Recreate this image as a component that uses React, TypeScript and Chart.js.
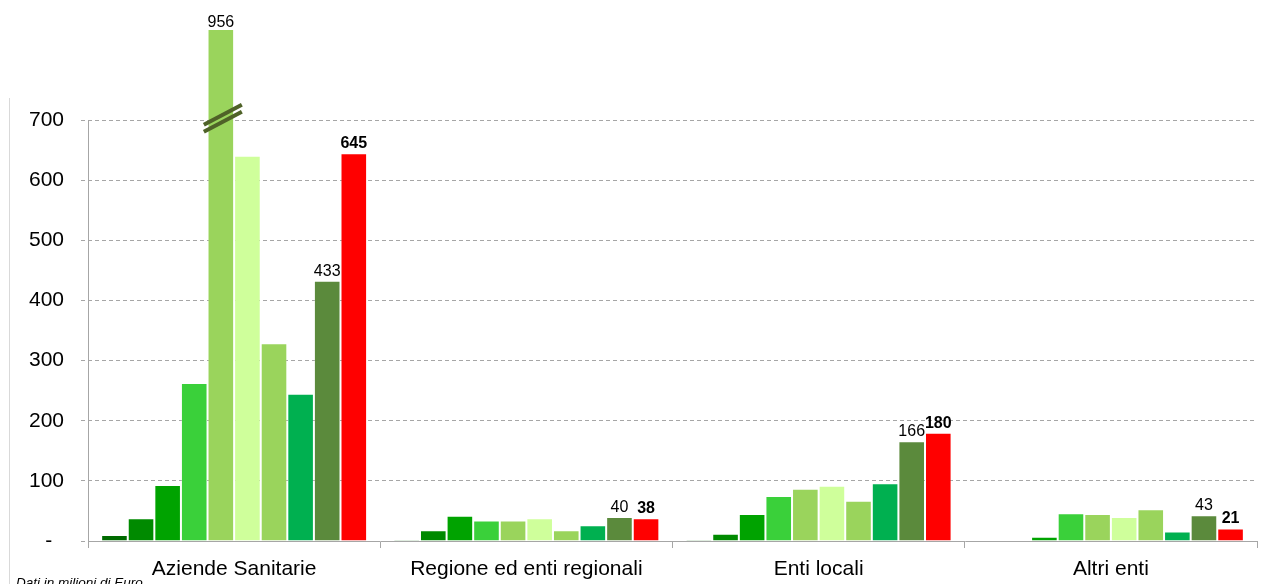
import React, { useEffect, useRef } from "react";
import { Chart, registerables } from "chart.js";

Chart.register(...registerables);

const categories = ["Aziende Sanitarie", "Regione ed enti regionali", "Enti locali", "Altri enti"];
const seriesNames = ["Serie 1", "Serie 2", "Serie 3", "Serie 4", "Serie 5", "Serie 6", "Serie 7", "Serie 8", "Serie 9", "Serie 10"];
const s1 = [10, 2, 2, 0.5];
const s2 = [38, 18, 12, 0.5];
const s3 = [93, 42, 45, 7];
const s4 = [263, 34, 75, 46];
const s5 = [956, 34, 87, 45];
const s6 = [641, 38, 92, 40];
const s7 = [329, 18, 67, 53];
const s8 = [245, 26, 96, 16];
const s9 = [433, 40, 166, 43];
const s10 = [645, 38, 180, 21];
const seriesValues = [s1, s2, s3, s4, s5, s6, s7, s8, s9, s10];
const seriesColors = ["#006a00", "#008a00", "#00a300", "#3ad03a", "#9ad45c", "#cfff9b", "#9ad45c", "#00b050", "#5b8a3c", "#ff0000"];
// [series index, category index, bold]
const labelledPoints: [number, number, boolean][] = [
  [4, 0, false],
  [8, 0, false], [8, 1, false], [8, 2, false], [8, 3, false],
  [9, 0, true], [9, 1, true], [9, 2, true], [9, 3, true],
];
const yTickValues = [0, 100, 200, 300, 400, 500, 600, 700];
const axisTop = 700;
const yMax = 850;
const footnote = "Dati in milioni di Euro";

const FONT = '"Liberation Sans", Arial, sans-serif';

const overlayPlugin = {
  id: "overlay",
  afterDatasetsDraw(chart: any) {
    const ctx = chart.ctx;
    const ya = chart.scales.y;
    const area = chart.chartArea;
    ctx.save();
    // y axis line
    ctx.strokeStyle = "#a6a6a6";
    ctx.lineWidth = 1;
    const ax = Math.round(area.left) + 0.5;
    ctx.beginPath();
    ctx.moveTo(ax, ya.getPixelForValue(axisTop));
    ctx.lineTo(ax, ya.getPixelForValue(0));
    ctx.stroke();
    // frame line
    ctx.strokeStyle = "#d9d9d9";
    ctx.beginPath();
    ctx.moveTo(9.5, 98);
    ctx.lineTo(9.5, 584);
    ctx.stroke();

    // breaks on bars beyond axis
    seriesValues.forEach((vals, di) => {
      const meta = chart.getDatasetMeta(di);
      vals.forEach((v, ci) => {
        if (v > yMax) {
          const bar = meta.data[ci];
          const cx = bar.x + 2;
          const cy = ya.getPixelForValue(axisTop) - 2;
          ctx.strokeStyle = "#4f6228";
          ctx.lineWidth = 4;
          ctx.lineCap = "butt";
          [-3.5, 3.5].forEach((off) => {
            ctx.beginPath();
            ctx.moveTo(cx - 19, cy + 10 + off);
            ctx.lineTo(cx + 19, cy - 10 + off);
            ctx.stroke();
          });
        }
      });
    });

    // value labels
    ctx.fillStyle = "#000";
    ctx.textAlign = "center";
    ctx.textBaseline = "alphabetic";
    labelledPoints.forEach(([di, ci, bold]) => {
      const v = seriesValues[di][ci];
      const bar = chart.getDatasetMeta(di).data[ci];
      ctx.font = (bold ? "bold " : "") + "16px " + FONT;
      let y;
      if (v > yMax) y = area.top - 3;
      else y = bar.y - 5;
      ctx.fillText(String(v), bar.x, y);
    });

    // footnote
    ctx.font = "italic 13.5px " + FONT;
    ctx.textAlign = "left";
    ctx.fillText(footnote, 16, 587);
    ctx.restore();
  },
};

export default function App() {
  const ref = useRef<HTMLCanvasElement>(null);
  useEffect(() => {
    document.body.style.margin = "0";
    Chart.defaults.font.family = FONT;
    const chart = new Chart(ref.current as HTMLCanvasElement, {
      type: "bar",
      data: {
        labels: categories,
        datasets: seriesValues.map((vals, i) => ({
          label: seriesNames[i],
          data: vals,
          backgroundColor: seriesColors[i],
          borderColor: "rgba(255,255,255,0.2)",
          borderWidth: 1,
          categoryPercentage: 0.91,
          barPercentage: 1.0,
        })),
      },
      options: {
        animation: false,
        responsive: true,
        maintainAspectRatio: false,
        layout: { padding: { top: 30, right: 6, left: 0, bottom: 0 } },
        plugins: { legend: { display: false }, tooltip: { enabled: false } },
        scales: {
          x: {
            grid: { offset: true, drawOnChartArea: false, tickLength: 7, color: "#a6a6a6" },
            border: { color: "#a6a6a6" },
            ticks: { color: "#000", font: { size: 21, family: FONT }, padding: 9, maxRotation: 0, autoSkip: false },
            afterFit: (s: any) => { s.height = 43; },
          },
          y: {
            min: 0,
            max: yMax,
            afterBuildTicks: (s: any) => { s.ticks = yTickValues.map((v) => ({ value: v })); },
            afterFit: (s: any) => { s.width = 88; },
            ticks: {
              color: "#000",
              font: { size: 21, family: FONT },
              padding: 17,
              callback: (v: any) => (v === 0 ? "-  " : String(v)),
            },
            grid: {
              color: (c: any) => (c.tick && c.tick.value === 0 ? "rgba(0,0,0,0)" : "#a6a6a6"),
              tickColor: "#a6a6a6",
              tickLength: 7,
              tickBorderDash: [4, 3],
            },
            border: { display: false, dash: [4, 3] },
          },
        },
      },
      plugins: [overlayPlugin],
    });
    return () => chart.destroy();
  }, []);
  return (
    <div style={{ width: 1263, height: 584, position: "relative" }}>
      <canvas ref={ref} />
    </div>
  );
}
